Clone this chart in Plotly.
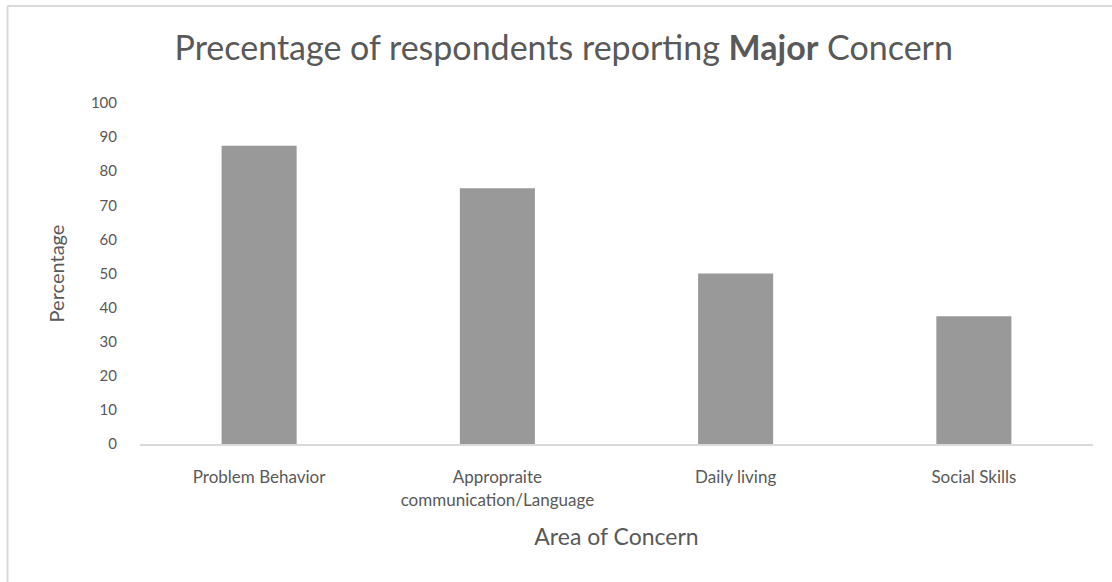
import plotly.graph_objects as go

# Survey results: share of respondents reporting a major concern per area
categories = [
    "Problem Behavior",
    "Appropraite<br>communication/Language",
    "Daily living",
    "Social Skills",
]
percentages = [87.5, 75, 50, 37.5]
y_ticks = [0, 10, 20, 30, 40, 50, 60, 70, 80, 90, 100]

W, H = 1112, 582
M_LEFT, M_RIGHT, M_TOP, M_BOTTOM = 140, 19, 103, 138
FONT = "Lato, 'Open Sans', sans-serif"
TEXT = "#595959"
LINE = "#d9d9d9"

plot_w = W - M_LEFT - M_RIGHT
plot_h = H - M_TOP - M_BOTTOM


def px_to_paper_x(px):
    return (px - M_LEFT) / plot_w


def px_to_paper_y(py):
    return (H - M_BOTTOM - py) / plot_h


fig = go.Figure(
    go.Bar(
        x=categories,
        y=percentages,
        marker=dict(color="#999999", line=dict(width=0)),
        hoverinfo="x+y",
    )
)

# Light frame along the top and left edges of the chart
frame = [
    dict(type="line", xref="paper", yref="paper",
         x0=px_to_paper_x(7.5), x1=px_to_paper_x(W + 5),
         y0=px_to_paper_y(6), y1=px_to_paper_y(6),
         line=dict(color=LINE, width=2)),
    dict(type="line", xref="paper", yref="paper",
         x0=px_to_paper_x(7.5), x1=px_to_paper_x(7.5),
         y0=px_to_paper_y(6), y1=px_to_paper_y(H + 5),
         line=dict(color=LINE, width=2)),
]

fig.update_layout(
    width=W,
    height=H,
    margin=dict(l=M_LEFT, r=M_RIGHT, t=M_TOP, b=M_BOTTOM, autoexpand=False),
    paper_bgcolor="white",
    plot_bgcolor="white",
    bargap=0.685,
    showlegend=False,
    font=dict(family=FONT, color=TEXT),
    title=dict(
        text="Precentage of respondents reporting <b>Major</b> Concern",
        x=0.507, xanchor="center",
        y=1 - 48 / H, yanchor="middle",
        font=dict(size=34, color=TEXT, family=FONT),
    ),
    xaxis=dict(
        showgrid=False,
        showline=True,
        linecolor=LINE,
        linewidth=2,
        ticks="",
        ticklabelstandoff=17,
        tickfont=dict(size=17, color=TEXT),
        title=dict(text="Area of Concern", font=dict(size=23, color=TEXT), standoff=20),
    ),
    yaxis=dict(
        range=[0, 100],
        tickvals=y_ticks,
        showgrid=False,
        zeroline=False,
        showline=False,
        ticks="",
        ticklabelstandoff=22,
        tickfont=dict(size=15, color=TEXT),
        title=dict(text="Percentage", font=dict(size=20, color=TEXT), standoff=20),
    ),
    shapes=frame,
)

fig.write_html("out.html")
